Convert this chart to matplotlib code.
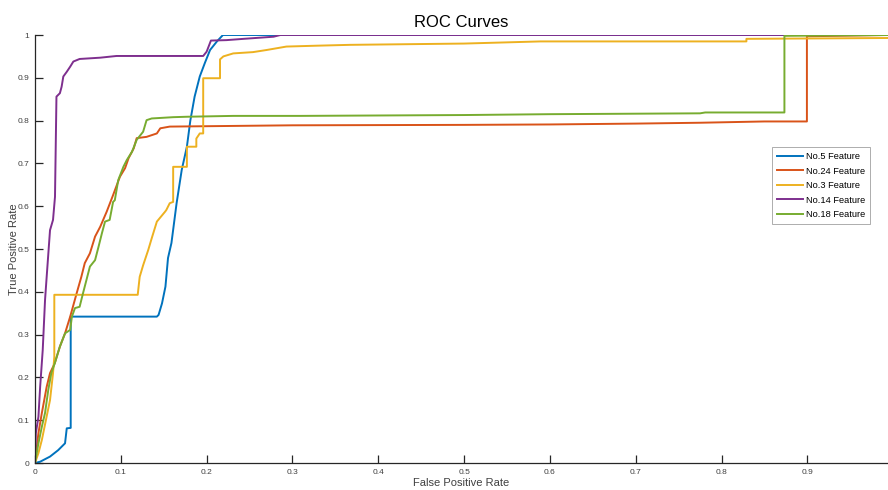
import matplotlib
matplotlib.use('Agg')
import matplotlib.pyplot as plt

plt.rcParams['font.family'] = ['Liberation Sans', 'DejaVu Sans']

labels = ['No.5 Feature', 'No.24 Feature', 'No.3 Feature', 'No.14 Feature', 'No.18 Feature']
colors = ['#0072BD', '#D95319', '#EDB120', '#7E2F8E', '#77AC30']

fpr_5 = [0, 0.006, 0.0175, 0.027, 0.035, 0.037, 0.0416, 0.0416, 0.142, 0.144, 0.148,
         0.152, 0.155, 0.159, 0.165, 0.171, 0.177, 0.181, 0.186, 0.192, 0.198, 0.204,
         0.212, 0.219, 0.25, 0.994]
tpr_5 = [0, 0.003, 0.015, 0.03, 0.046, 0.081, 0.082, 0.342, 0.342, 0.346, 0.373,
         0.412, 0.479, 0.514, 0.607, 0.685, 0.739, 0.80, 0.856, 0.903, 0.935, 0.965,
         0.985, 1.0, 1.0, 1.0]

fpr_24 = [0, 0.004, 0.008, 0.0136, 0.0175, 0.023, 0.029, 0.035, 0.041, 0.0486, 0.054,
          0.058, 0.064, 0.07, 0.076, 0.0835, 0.091, 0.099, 0.105, 0.109, 0.115, 0.1185,
          0.130, 0.142, 0.146, 0.157, 0.3, 0.5, 0.6, 0.7, 0.775, 0.85, 0.8995, 0.8995, 0.994]
tpr_24 = [0, 0.07, 0.117, 0.178, 0.21, 0.233, 0.272, 0.303, 0.342, 0.397, 0.435,
          0.467, 0.49, 0.529, 0.552, 0.587, 0.626, 0.669, 0.689, 0.712, 0.735, 0.759,
          0.762, 0.77, 0.782, 0.786, 0.789, 0.79, 0.791, 0.793, 0.795, 0.798, 0.798, 0.997, 1.0]

fpr_3 = [0, 0.004, 0.008, 0.0175, 0.021, 0.0225, 0.0225, 0.1197, 0.122, 0.126, 0.132,
         0.136, 0.142, 0.1515, 0.153, 0.157, 0.161, 0.161, 0.177, 0.177, 0.188, 0.188,
         0.192, 0.196, 0.196, 0.2156, 0.2156, 0.2195, 0.231, 0.254, 0.27, 0.293, 0.328,
         0.367, 0.5, 0.589, 0.7, 0.829, 0.829, 0.994]
tpr_3 = [0, 0.023, 0.054, 0.147, 0.21, 0.248, 0.393, 0.393, 0.435, 0.462, 0.498,
         0.525, 0.564, 0.587, 0.591, 0.607, 0.61, 0.692, 0.692, 0.739, 0.739, 0.758,
         0.77, 0.77, 0.899, 0.899, 0.943, 0.95, 0.957, 0.96, 0.965, 0.973, 0.975,
         0.977, 0.98, 0.985, 0.985, 0.985, 0.991, 0.993]

fpr_14 = [0, 0.001, 0.004, 0.006, 0.009, 0.0117, 0.0136, 0.0175, 0.021, 0.0233, 0.025,
          0.029, 0.031, 0.033, 0.037, 0.041, 0.0447, 0.052, 0.076, 0.095, 0.196, 0.200,
          0.205, 0.223, 0.243, 0.278, 0.286, 0.994]
tpr_14 = [0, 0.07, 0.108, 0.178, 0.264, 0.381, 0.435, 0.544, 0.568, 0.622, 0.856,
          0.864, 0.879, 0.903, 0.914, 0.926, 0.938, 0.944, 0.947, 0.951, 0.951, 0.961,
          0.987, 0.988, 0.991, 0.996, 1.0, 1.0]

fpr_18 = [0, 0.004, 0.008, 0.0117, 0.0155, 0.019, 0.023, 0.029, 0.035, 0.041, 0.043,
          0.0466, 0.052, 0.056, 0.060, 0.064, 0.070, 0.074, 0.078, 0.0816, 0.087, 0.091,
          0.093, 0.097, 0.103, 0.107, 0.113, 0.1185, 0.126, 0.130, 0.136, 0.161, 0.177,
          0.231, 0.309, 0.5, 0.6, 0.775, 0.781, 0.8733, 0.8733, 0.994]
tpr_18 = [0, 0.046, 0.085, 0.117, 0.171, 0.21, 0.233, 0.272, 0.303, 0.311, 0.342,
          0.362, 0.365, 0.397, 0.428, 0.459, 0.474, 0.505, 0.537, 0.564, 0.568, 0.61,
          0.614, 0.661, 0.692, 0.708, 0.727, 0.755, 0.774, 0.801, 0.805, 0.808, 0.809,
          0.811, 0.811, 0.813, 0.815, 0.817, 0.819, 0.819, 0.998, 1.0]

curves = [(fpr_5, tpr_5), (fpr_24, tpr_24), (fpr_3, tpr_3), (fpr_14, tpr_14), (fpr_18, tpr_18)]

fig = plt.figure(figsize=(8.88, 4.9), dpi=100)
ax = fig.add_axes([35 / 888, 27 / 490, 853 / 888, 428 / 490])

for (x, y), c, lab in zip(curves, colors, labels):
    ax.plot(x, y, color=c, linewidth=1.4, label=lab)

ax.set_xlim(0, 0.994)
ax.set_ylim(0, 1)
ax.set_xticks([i / 10 for i in range(10)])
ax.set_yticks([i / 10 for i in range(11)])
ax.set_xticklabels(['0'] + ['%.1f' % (i / 10) for i in range(1, 10)])
ax.set_yticklabels(['0'] + ['%.1f' % (i / 10) for i in range(1, 10)] + ['1'])

for s in ['top', 'right']:
    ax.spines[s].set_visible(False)
for s in ['left', 'bottom']:
    ax.spines[s].set_color('#262626')
    ax.spines[s].set_linewidth(0.9)
ax.tick_params(direction='in', length=6, width=0.9, labelsize=6,
               colors='#262626', labelcolor='#404040', pad=4)

ax.set_title('ROC Curves', fontsize=12, color='black', pad=6)
ax.set_xlabel('False Positive Rate', fontsize=8, color='#404040', labelpad=2)
ax.set_ylabel('True Positive Rate', fontsize=8, color='#404040', labelpad=-1)

leg = ax.legend(loc='upper left', bbox_to_anchor=(0.864, 0.738), borderaxespad=0,
                fontsize=6.7, frameon=True, fancybox=False, framealpha=1,
                edgecolor='#a0a0a0', handlelength=2.8, labelspacing=0.59,
                borderpad=0.55, handletextpad=0.3)
leg.get_frame().set_linewidth(0.6)

fig.savefig('out.png', dpi=100)
